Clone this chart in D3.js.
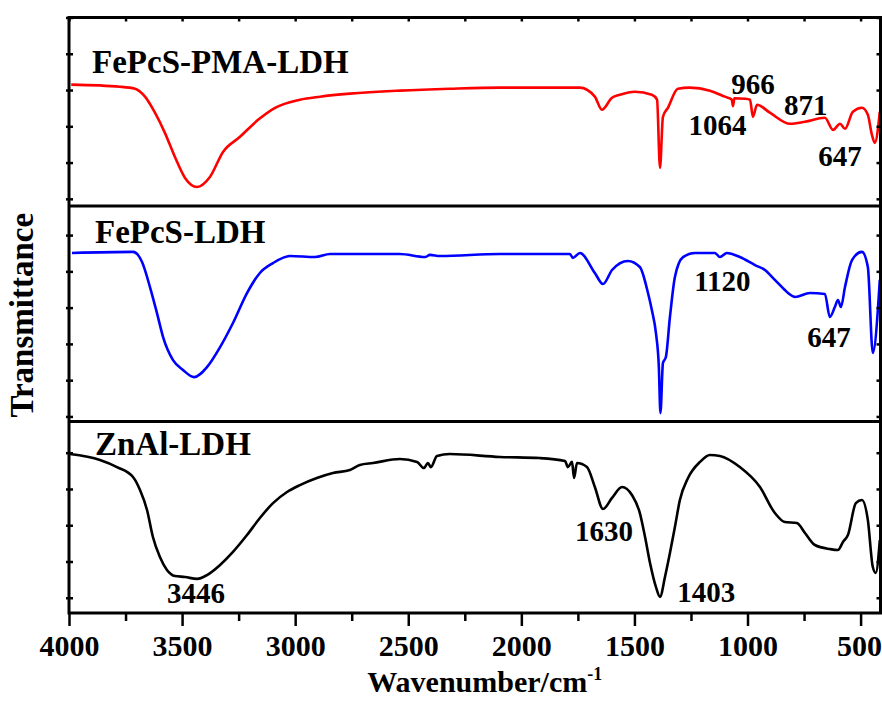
<!DOCTYPE html>
<html>
<head>
<meta charset="utf-8">
<script src="https://cdn.jsdelivr.net/npm/d3@7"></script>
<style>
    body { margin: 0; background: #fff; }
    svg { display: block; }
    text { font-family: "Liberation Serif", "Times New Roman", serif; font-weight: bold; fill: #000; }
</style>
</head>
<body>
<svg id="chart" width="882" height="704"></svg>
<script>
// Спектры: [волновое число, пропускание (отн. ед. внутри панели)]
const pmaLdh = [
    [3990, 64.4], [3775, 63.3], [3708, 62.2], [3664, 58.0], [3620, 49.5], [3576, 38.8],
    [3532, 26.1], [3487, 14.9], [3434, 10.1], [3377, 15.4], [3319, 28.7], [3244, 36.7],
    [3164, 45.7], [3089, 52.1], [2979, 56.4], [2890, 58.0], [2758, 59.6], [2537, 61.2],
    [2316, 62.2], [2095, 62.8], [1873, 62.8], [1741, 62.8], [1675, 58.0], [1644, 51.1],
    [1599, 57.4], [1564, 59.0], [1498, 60.6], [1423, 59.0], [1400, 56.4], [1387, 20.2],
    [1374, 47.3], [1352, 52.1], [1308, 62.2], [1255, 62.8], [1166, 61.2], [1100, 58.0],
    [1070, 56.5], [1064, 53.0], [1058, 57.2], [1011, 56.9], [989, 56.4], [976, 47.3],
    [958, 53.7], [901, 49.5], [812, 43.6], [746, 44.7], [658, 46.8], [622, 40.4],
    [591, 43.6], [569, 41.0], [534, 50.0], [494, 52.1], [468, 48.4], [450, 37.8],
    [437, 33.5], [415, 50.0]
];

const fepcsLdh = [
    [3987, 78.2], [3717, 78.7], [3677, 74.0], [3642, 62.4], [3611, 50.3], [3584, 39.2],
    [3540, 28.5], [3496, 23.9], [3447, 20.6], [3390, 25.2], [3332, 34.5], [3275, 45.7],
    [3213, 59.6], [3156, 68.9], [3098, 73.5], [3023, 76.8], [2912, 76.3], [2846, 77.7],
    [2537, 77.7], [2426, 76.3], [2404, 77.3], [2360, 76.8], [2095, 77.7], [1785, 77.7],
    [1772, 75.9], [1741, 78.2], [1675, 68.9], [1639, 63.8], [1599, 70.3], [1529, 74.5],
    [1476, 71.7], [1440, 59.6], [1423, 51.7], [1405, 41.1], [1392, 25.3], [1385, 3.9],
    [1374, 27.1], [1361, 29.9], [1343, 48.5], [1321, 67.1], [1285, 76.3], [1232, 78.2],
    [1144, 78.2], [1122, 76.3], [1091, 78.2], [1034, 76.3], [967, 72.6], [923, 70.3],
    [879, 65.7], [835, 61.0], [821, 59.6], [790, 57.8], [724, 59.6], [658, 59.2],
    [636, 48.5], [614, 53.1], [600, 56.4], [587, 53.1], [569, 62.4], [538, 74.9],
    [494, 78.7], [468, 71.7], [446, 31.8], [415, 65.7]
];

const znalLdh = [
    [3996, 83.0], [3863, 79.9], [3788, 76.2], [3717, 71.0], [3686, 64.2], [3655, 53.8],
    [3629, 39.7], [3598, 29.2], [3567, 22.5], [3531, 19.3], [3487, 18.8], [3434, 17.8],
    [3390, 19.8], [3332, 25.1], [3275, 31.9], [3213, 40.7], [3156, 49.6], [3098, 57.4],
    [3036, 63.2], [2979, 66.8], [2904, 70.5], [2833, 73.1], [2758, 74.7], [2714, 77.3],
    [2656, 78.3], [2537, 80.4], [2461, 78.9], [2431, 75.7], [2413, 78.3], [2400, 76.2],
    [2373, 82.0], [2316, 83.0], [2095, 81.5], [1918, 80.9], [1807, 79.4], [1794, 76.2],
    [1776, 78.9], [1767, 70.5], [1754, 78.3], [1710, 76.2], [1675, 65.8], [1639, 54.3],
    [1599, 60.1], [1555, 65.8], [1511, 61.6], [1476, 52.2], [1453, 39.7], [1431, 26.1],
    [1405, 13.6], [1387, 8.4], [1365, 18.8], [1343, 31.3], [1321, 44.9], [1299, 59.0],
    [1263, 70.5], [1210, 78.9], [1166, 82.5], [1122, 82.0], [1034, 76.2], [945, 65.8],
    [879, 52.2], [835, 47.5], [782, 47.0], [746, 41.8], [702, 35.5], [636, 33.4],
    [600, 32.9], [578, 37.1], [556, 40.7], [521, 57.4], [494, 59.0], [468, 48.6],
    [446, 24.0], [433, 20.9], [415, 38.1]
];

// Подписи образцов и пиков: [текст, волновое число, уровень]
const sampleNames = ['FePcS-PMA-LDH', 'FePcS-LDH', 'ZnAl-LDH'];
const sampleLabelPos = [[3898, 70.7], [3885, 82.8], [3885, 82.5]];
const peakLabels = [
    [['1064', 1133, 37.8], ['966', 976, 59.6], ['871', 742, 48.4], ['647', 591, 21.3]],
    [['1120', 1111, 60.6], ['647', 640, 34.6]],
    [['3446', 3439, 5.2], ['1630', 1635, 37.6], ['1403', 1182, 5.7]]
];

const majorTicks = [4000, 3500, 3000, 2500, 2000, 1500, 1000, 500];
const minorTicks = [3750, 3250, 2750, 2250, 1750, 1250, 750];

// Разметка
const plotLeft = 69, plotRight = 880.5, plotTop = 17.5, plotBottom = 613;
const panelEdges = [plotTop, 206, 421.5, plotBottom];
const colors = ['#ff0000', '#0000ff', '#000000'];
const seriesList = [pmaLdh, fepcsLdh, znalLdh];

const svg = d3.select('#chart');

const x = d3.scaleLinear().domain([4000, 412]).range([plotLeft, plotRight]);
// Общая (безразмерная) ось пропускания для засечек слева и справа
const yAll = d3.scaleLinear().domain([-0.42, 16]).range([plotBottom, plotTop]);

svg.append('clipPath').attr('id', 'clip')
    .append('rect')
    .attr('x', plotLeft).attr('y', plotTop)
    .attr('width', plotRight - plotLeft).attr('height', plotBottom - plotTop);

// Кривые
seriesList.forEach((data, i) => {
    const y = d3.scaleLinear().domain([0, 100]).range([panelEdges[i + 1], panelEdges[i]]);
    const line = d3.line()
        .x(d => x(d[0]))
        .y(d => y(d[1]))
        .curve(d3.curveMonotoneX);

    svg.append('path')
        .datum(data)
        .attr('clip-path', 'url(#clip)')
        .attr('fill', 'none')
        .attr('stroke', colors[i])
        .attr('stroke-width', 2.6)
        .attr('stroke-linejoin', 'round')
        .attr('d', line);

    svg.append('text')
        .attr('x', x(sampleLabelPos[i][0]))
        .attr('y', y(sampleLabelPos[i][1]))
        .attr('font-size', 33)
        .text(sampleNames[i]);

    peakLabels[i].forEach(p => {
        svg.append('text')
            .attr('x', x(p[1]))
            .attr('y', y(p[2]))
            .attr('text-anchor', 'middle')
            .attr('font-size', 29)
            .text(p[0]);
    });
});

// Засечки
const tickStyle = g => {
    g.select('.domain').remove();
    g.selectAll('line').attr('stroke', '#000').attr('stroke-width', 2.5);
};

svg.append('g')
    .attr('transform', `translate(0,${plotBottom})`)
    .call(d3.axisBottom(x).tickValues(minorTicks).tickSize(8).tickFormat(''))
    .call(tickStyle);

svg.append('g')
    .attr('transform', `translate(0,${plotBottom})`)
    .call(d3.axisBottom(x).tickValues(majorTicks).tickSize(13).tickPadding(9).tickFormat(d3.format('d')))
    .call(tickStyle)
    .call(g => g.selectAll('text').attr('font-size', 30).attr('font-family', null))
    // последняя подпись упирается в правый край окна
    .call(g => g.selectAll('text').filter(d => d === 500)
        .attr('text-anchor', 'end')
        .attr('x', plotRight + 1 - x(500)));

svg.append('g')
    .attr('transform', `translate(0,${plotTop})`)
    .call(d3.axisTop(x).tickValues(majorTicks.concat(minorTicks)).tickSize(-4).tickFormat(''))
    .call(tickStyle);

svg.append('g')
    .attr('transform', `translate(${plotLeft},0)`)
    .call(d3.axisLeft(yAll).tickValues(d3.range(0, 17)).tickSize(3).tickFormat(''))
    .call(tickStyle);
svg.append('g')
    .attr('transform', `translate(${plotLeft},0)`)
    .call(d3.axisRight(yAll).tickValues(d3.range(0, 17)).tickSize(4).tickFormat(''))
    .call(tickStyle);
svg.append('g')
    .attr('transform', `translate(${plotRight},0)`)
    .call(d3.axisLeft(yAll).tickValues(d3.range(0, 17)).tickSize(4).tickFormat(''))
    .call(tickStyle);

// Рамка и разделители панелей
svg.append('rect')
    .attr('x', plotLeft).attr('y', plotTop)
    .attr('width', plotRight - plotLeft).attr('height', plotBottom - plotTop)
    .attr('fill', 'none').attr('stroke', '#000').attr('stroke-width', 3);

[panelEdges[1], panelEdges[2]].forEach(py => {
    svg.append('line')
        .attr('x1', plotLeft).attr('x2', plotRight)
        .attr('y1', py).attr('y2', py)
        .attr('stroke', '#000').attr('stroke-width', 3);
});

// Подписи осей
svg.append('text')
    .attr('transform', `translate(33,${(plotTop + plotBottom) / 2}) rotate(-90)`)
    .attr('text-anchor', 'middle')
    .attr('font-size', 33)
    .text('Transmittance');

const xTitle = svg.append('text')
    .attr('x', (plotLeft + plotRight) / 2 + 10)
    .attr('y', 692)
    .attr('text-anchor', 'middle')
    .attr('font-size', 30);
xTitle.append('tspan').text('Wavenumber/cm');
xTitle.append('tspan').attr('font-size', 18).attr('dy', -12).text('-1');
</script>
</body>
</html>
